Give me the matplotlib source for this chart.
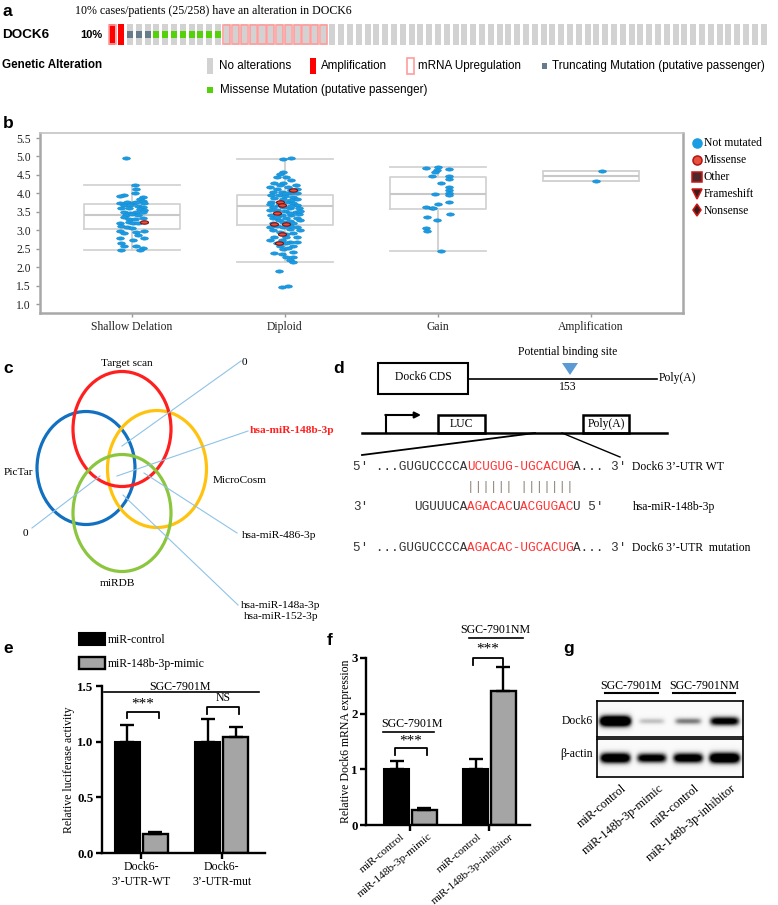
import numpy as np
import matplotlib
matplotlib.use("Agg")
import matplotlib.pyplot as plt
from matplotlib.patches import Rectangle, Ellipse, Polygon
from matplotlib.path import Path

W, H = 778, 905
plt.rcParams["font.family"] = ["Liberation Serif", "DejaVu Serif"]
SANS = ["Liberation Sans", "DejaVu Sans"]
MONO = ["Liberation Mono", "DejaVu Sans Mono"]

# ---------------- data ----------------
# a: oncoprint, one column per sample
onco_types = ["amp_mrna", "amp", "trunc", "missense", "mrna", "none"]
onco_counts = [1, 1, 3, 8, 12, 50]

# b: DOCK6 expression by copy number
cn_groups = ["Shallow Delation", "Diploid", "Gain", "Amplification"]
box_q1 = [3.03, 3.13, 3.58, 4.33]
box_med = [3.42, 3.67, 3.99, 4.47]
box_q3 = [3.71, 3.96, 4.45, 4.61]
box_lo = [2.46, 2.13, 2.44, 4.33]
box_hi = [4.23, 4.93, 4.71, 4.61]

shallow_y = [4.95, 4.23, 4.12, 4.00, 3.96, 3.94, 3.89, 3.84, 3.79, 3.75, 3.77, 3.75, 3.77,
             3.73, 3.68, 3.68, 3.66, 3.64, 3.59, 3.59, 3.57, 3.55, 3.50, 3.48, 3.50, 3.50,
             3.41, 3.43, 3.41, 3.35, 3.30, 3.30, 3.32, 3.19, 3.23, 3.19, 3.19, 3.12, 3.08,
             3.05, 2.99, 2.93, 2.96, 2.99, 2.87, 2.78, 2.74, 2.79, 2.65, 2.57, 2.56, 2.51,
             2.47, 2.47]
shallow_dx = [-0.04, 0.02, 0.03, 0.02, -0.05, -0.08, 0.07, 0.05, 0.07, -0.08, -0.03, 0.01,
              0.03, 0.08, -0.05, -0.01, 0.04, 0.07, -0.07, -0.02, 0.05, 0.08, -0.05, -0.01,
              0.03, 0.07, -0.04, 0.0, 0.04, -0.05, -0.02, 0.02, 0.07, -0.08, -0.02, 0.01,
              0.04, -0.07, -0.03, 0.0, -0.08, -0.05, 0.03, 0.08, 0.04, -0.08, 0.01, 0.08,
              -0.07, -0.05, 0.03, 0.07, -0.07, 0.05]
diploid_y = [4.93, 4.95, 4.59, 4.52, 4.43, 4.43, 4.36, 4.29, 4.27, 4.23, 4.18, 4.11, 4.12,
             4.05, 4.05, 4.02, 4.00, 3.96, 3.96, 3.93, 3.91, 3.87, 3.84, 3.84, 3.77, 3.77,
             3.73, 3.68, 3.64, 3.64, 3.59, 3.59, 3.55, 3.53, 3.50, 3.41, 3.41, 3.41, 3.44,
             3.32, 3.32, 3.32, 3.28, 3.26, 3.19, 3.19, 3.12, 3.08, 3.08, 3.01, 3.03, 2.96,
             2.92, 2.81, 2.83, 2.81, 2.74, 2.69, 2.65, 2.57, 2.56, 2.48, 2.37, 2.36, 2.42,
             2.28, 2.27, 2.19, 2.15, 1.90, 1.47, 1.50,
             4.18, 4.23, 4.09, 4.00, 3.77, 3.82, 3.71, 3.68, 3.67, 3.55, 3.48, 3.53, 3.37,
             3.23, 3.28, 3.08, 3.12, 3.01, 2.90, 2.74, 2.69, 2.66, 2.51]
diploid_dx = [-0.01, 0.04, -0.01, -0.03, -0.05, 0.01, 0.04, -0.07, -0.01, 0.07, 0.02, -0.05,
              0.08, -0.08, -0.02, 0.03, 0.08, -0.09, -0.04, 0.0, 0.05, -0.07, -0.01, 0.08,
              -0.09, 0.02, 0.05, 0.08, -0.08, -0.01, 0.03, 0.09, -0.05, 0.0, 0.07, -0.09,
              -0.02, 0.04, 0.09, -0.08, 0.01, 0.08, -0.04, 0.03, -0.08, 0.05, -0.05, -0.01,
              0.08, -0.08, 0.03, -0.03, 0.05, -0.07, 0.01, 0.08, -0.02, 0.03, 0.01, -0.03,
              0.05, -0.01, -0.07, -0.02, 0.05, 0.01, 0.05, 0.03, 0.05, -0.04, -0.02, 0.02,
              -0.10, -0.03, 0.04, 0.01, -0.03, 0.04, -0.10, -0.04, 0.04, -0.10, 0.03, 0.10,
              -0.05, -0.01, 0.10, -0.10, 0.03, 0.10, 0.01, -0.10, 0.08, -0.05, 0.02]
gain_y = [4.70, 4.72, 4.65, 4.63, 4.59, 4.47, 4.47, 4.38, 4.27, 4.16, 4.09, 3.98, 4.00,
          3.96, 3.70, 3.77, 3.62, 3.61, 3.59, 3.44, 3.37, 3.29, 3.06, 2.97, 2.44]
gain_dx = [-0.08, 0.0, 0.07, -0.01, -0.02, -0.04, 0.07, 0.07, 0.02, 0.07, 0.07, -0.02, 0.07,
           0.07, 0.0, 0.07, -0.08, -0.04, -0.03, 0.08, -0.07, -0.01, -0.08, -0.07, 0.02]
amp_y = [4.61, 4.33]
amp_dx = [0.07, 0.03]

# missense-mutated samples: (group index, jitter, value)
missense_group = [0, 1, 1, 1, 1, 1, 1, 1, 1]
missense_dx = [0.08, 0.05, -0.03, -0.02, -0.05, -0.07, 0.01, -0.02, -0.04]
missense_y = [3.22, 4.09, 3.77, 3.69, 3.48, 3.17, 3.16, 2.90, 2.65]

# e: luciferase reporter
luc_groups = ["Dock6-\n3\u2019-UTR-WT", "Dock6-\n3\u2019-UTR-mut"]
luc_control = [1.0, 1.0]
luc_control_err = [0.15, 0.20]
luc_mimic = [0.17, 1.04]
luc_mimic_err = [0.02, 0.09]

# f: Dock6 mRNA
mrna_labels = ["miR-control", "miR-148b-3p-mimic", "miR-control", "miR-148b-3p-inhibitor"]
mrna_control = [1.0, 1.0]
mrna_control_err = [0.15, 0.18]
mrna_treated = [0.27, 2.40]
mrna_treated_err = [0.04, 0.43]

# g: western blot band intensities
blot_lanes = ["miR-control", "miR-148b-3p-mimic", "miR-control", "miR-148b-3p-inhibitor"]
dock6_band = [1.0, 0.2, 0.35, 0.7]
actin_band = [0.85, 0.72, 0.78, 0.9]

# ---------------- figure ----------------
fig = plt.figure(figsize=(W / 100, H / 100), dpi=100)


def px_axes(x0, y0, x1, y1):
    return fig.add_axes([x0 / W, 1 - y1 / H, (x1 - x0) / W, (y1 - y0) / H])


ov = fig.add_axes([0, 0, 1, 1])
ov.set_xlim(0, W)
ov.set_ylim(H, 0)
ov.set_autoscale_on(False)
ov.axis("off")
ov.set_zorder(10)
ov.patch.set_visible(False)

for lab, x, y in [("a", 3, 11), ("b", 3, 123), ("c", 3, 368), ("d", 333, 368),
                  ("e", 3, 648), ("f", 327, 640), ("g", 563, 648)]:
    ov.text(x, y, lab, family=SANS, fontsize=12.5, fontweight="bold", va="center")

# ---- a ----
ov.text(75, 11, "10% cases/patients (25/258) have an alteration in DOCK6", fontsize=8.6, va="center")
ov.text(2, 35, "DOCK6", family=SANS, fontsize=9.7, fontweight="bold", va="center")
ov.text(80, 35, "10%", family=SANS, fontsize=8, fontweight="bold", va="center")
ov.text(2, 65, "Genetic Alteration", family=SANS, fontsize=8.4, fontweight="bold", va="center")

GREY, RED, PINK, SLATE, GREEN = "#d2d2d2", "#ff0000", "#ff9c9c", "#687b8c", "#55d10a"
ax_a = px_axes(108, 24, 768, 45)
sample_types = np.repeat(onco_types, onco_counts)
for i, t in enumerate(sample_types):
    face = RED if t.startswith("amp") else GREY
    ax_a.add_patch(Rectangle((i - 0.34, 0), 0.68, 1, fc=face, ec="none"))
    if "mrna" in t:
        ax_a.add_patch(Rectangle((i - 0.42, 0.03), 0.84, 0.94, fc="none", ec=PINK, lw=1.2))
    if t == "trunc":
        ax_a.add_patch(Rectangle((i - 0.34, 0.35), 0.68, 0.3, fc=SLATE, ec="none"))
    if t == "missense":
        ax_a.add_patch(Rectangle((i - 0.34, 0.35), 0.68, 0.3, fc=GREEN, ec="none"))
ax_a.set_xlim(-0.5, len(sample_types) - 0.5)
ax_a.set_ylim(0, 1)
ax_a.axis("off")

# legend of a
ov.add_patch(Rectangle((207, 58), 6, 16, fc=GREY, ec="none"))
ov.text(219, 66, "No alterations", family=SANS, fontsize=8.4, va="center")
ov.add_patch(Rectangle((310, 58), 6, 16, fc=RED, ec="none"))
ov.text(321, 66, "Amplification", family=SANS, fontsize=8.4, va="center")
ov.add_patch(Rectangle((407, 58), 7, 16, fc="none", ec=PINK, lw=1.2))
ov.text(418, 66, "mRNA Upregulation", family=SANS, fontsize=8.4, va="center")
ov.add_patch(Rectangle((542, 63), 5, 6, fc=SLATE, ec="none"))
ov.text(552, 66, "Truncating Mutation (putative passenger)", family=SANS, fontsize=8.4, va="center")
ov.add_patch(Rectangle((207, 87), 6, 6, fc=GREEN, ec="none"))
ov.text(220, 90, "Missense Mutation (putative passenger)", family=SANS, fontsize=8.4, va="center")

# ---- b ----
ax_b = px_axes(40, 133, 683, 313)
stats = [dict(med=m, q1=a, q3=b, whislo=lo, whishi=hi, fliers=[])
         for m, a, b, lo, hi in zip(box_med, box_q1, box_q3, box_lo, box_hi)]
bc = "#d3d3d3"
ax_b.bxp(stats, positions=range(4), widths=0.63, capwidths=0.63, showfliers=False,
         boxprops=dict(color=bc, lw=1.3), whiskerprops=dict(color=bc, lw=1.5),
         capprops=dict(color=bc, lw=1.3), medianprops=dict(color="#c8c8c8", lw=1.5))
theta = np.linspace(0, 2 * np.pi, 40)
ell = Path(np.column_stack([np.cos(theta), 0.42 * np.sin(theta)]))
BLUE = "#1a9ce3"
for gi, (ys, dxs) in enumerate([(shallow_y, shallow_dx), (diploid_y, diploid_dx),
                                (gain_y, gain_dx), (amp_y, amp_dx)]):
    ax_b.plot(gi + np.array(dxs), ys, ls="none", marker=ell, ms=5.6, mfc=BLUE, mec="#1589cf",
              mew=0.4, zorder=3)
ax_b.plot(np.array(missense_group) + np.array(missense_dx), missense_y, ls="none", marker=ell,
          ms=5.8, mfc="#e8503c", mec="#7a1010", mew=0.8, zorder=4)
ax_b.set_xlim(-0.6, 3.6)
ax_b.set_ylim(0.757, 5.636)
ax_b.set_yticks(np.arange(1.0, 5.51, 0.5))
ax_b.set_yticklabels(["%.1f" % v for v in np.arange(1.0, 5.51, 0.5)], fontsize=8.4)
ax_b.set_xticks(range(4))
ax_b.set_xticklabels(cn_groups, fontsize=8.4)
ax_b.tick_params(colors="#999999", labelcolor="#222222", length=3, width=1)
ax_b.tick_params(axis="x", pad=2.5)
for s in ax_b.spines.values():
    s.set_color("#c4c4c4")
    s.set_linewidth(1.2)
for side in ("left", "bottom", "right"):
    ax_b.spines[side].set_color("#a8a8a8")
    ax_b.spines[side].set_linewidth(1.8)

legend_b = [("Not mutated", "o", BLUE, BLUE), ("Missense", "o", "#e8503c", "#b01515"),
            ("Other", "s", "#4a2a2a", "#d01515"), ("Frameshift", "v", "#3a1c1c", "#d01515"),
            ("Nonsense", "d", "#3a1c1c", "#d01515")]
for k, (lab, m, fc, ec) in enumerate(legend_b):
    y = 143.3 + 16.8 * k
    ov.plot(697, y, marker=m, ms=6.5, mfc=fc, mec=ec, mew=1.1, ls="none")
    ov.text(704, y, lab, fontsize=8.4, va="center")

# ---- c ----
venn = [("PicTar", 86, 468, 98, 113, "#1270c0"), ("MicroCosm", 157, 469, 99, 117, "#ffc20e"),
        ("Target scan", 122, 429, 98, 115, "#ff1f1f"), ("miRDB", 122, 513, 98, 117, "#8cc63f")]
for name, cx, cy, w, h, col in venn:
    ov.add_patch(Ellipse((cx, cy), w, h, fc="none", ec=col, lw=2.3))
ov.text(127, 363, "Target scan", fontsize=8.2, ha="center", va="center")
ov.text(4, 472, "PicTar", fontsize=8.2, va="center")
ov.text(213, 480, "MicroCosm", fontsize=8.2, va="center")
ov.text(117, 583, "miRDB", fontsize=8.2, ha="center", va="center")
ov.text(244, 362, "0", fontsize=8.2, ha="center", va="center")
ov.text(25, 533, "0", fontsize=8.2, ha="center", va="center")
ov.text(250, 430, "hsa-miR-148b-3p", fontsize=8.2, color="#ff1f1f", fontweight="bold", va="center")
ov.text(242, 535, "hsa-miR-486-3p", fontsize=8.2, va="center")
ov.text(281, 611, "hsa-miR-148a-3p\nhsa-miR-152-3p", fontsize=8.2, ha="center", va="center",
        linespacing=1.15)
LB = "#8fc3e8"
for (x0, y0), (x1, y1) in [((241, 361), (122, 446)), ((248, 431), (117, 476)),
                           ((32, 528), (100, 476)), ((144, 473), (237, 533)),
                           ((123, 495), (238, 605))]:
    ov.plot([x0, x1], [y0, y1], color=LB, lw=0.8)

# ---- d ----
ov.add_patch(Rectangle((378, 363), 90, 31, fc="none", ec="black", lw=1.5))
ov.text(423, 377, "Dock6 CDS", fontsize=8.4, ha="center", va="center")
ov.plot([468, 657], [379, 379], color="black", lw=1.2)
ov.text(659, 378, "Poly(A)", fontsize=8.4, va="center")
ov.add_patch(Polygon([(562, 363), (578, 363), (570, 375)], closed=True, fc="#5b9bd5", ec="none"))
ov.text(568, 352, "Potential binding site", fontsize=8.4, ha="center", va="center")
ov.text(568, 387, "153", fontsize=8.4, ha="center", va="center")

ov.plot([362, 667], [433, 433], color="black", lw=1.8)
ov.plot([386, 386], [433, 415], color="black", lw=1.5)
ov.annotate("", xy=(421, 415), xytext=(385.3, 415),
            arrowprops=dict(arrowstyle="-|>", lw=1.5, color="black", mutation_scale=9,
                            shrinkA=0, shrinkB=0))
ov.add_patch(Rectangle((438, 415), 47, 18, fc="none", ec="black", lw=1.8))
ov.text(461.5, 424, "LUC", fontsize=8.4, ha="center", va="center")
ov.add_patch(Rectangle((583, 415), 46, 18, fc="none", ec="black", lw=1.8))
ov.text(606, 424, "Poly(A)", fontsize=8.4, ha="center", va="center")
ov.plot([362, 535], [455, 433], color="black", lw=1.3)
ov.plot([562, 620], [433, 457], color="black", lw=1.0)

DARK, SRED = "#333333", "#ff3333"
cw = 0.6 * 9.1 * 100 / 72


def seq_line(y, parts, start=0):
    pos = start
    for s, c in parts:
        ov.text(353 + pos * cw, y, s, family=MONO, fontsize=9.1, color=c, va="center")
        pos += len(s)


seq_line(467, [("5' ...GUGUCCCCA", DARK), ("UCUGUG-UGCACUG", SRED), ("A... 3'", DARK)])
seq_line(487, [("|||||| |||||||", "#8c7f72")], start=15)
seq_line(507, [("3'", DARK)])
seq_line(507, [("UGUUUCA", DARK), ("AGACAC", SRED), ("U", DARK), ("ACGUGAC", SRED),
               ("U 5'", DARK)], start=8)
seq_line(548, [("5' ...GUGUCCCCA", DARK), ("AGACAC-UGCACUG", SRED), ("A... 3'", DARK)])
ov.text(632, 467, "Dock6 3\u2019-UTR WT", fontsize=8.4, va="center")
ov.text(633, 507, "hsa-miR-148b-3p", fontsize=8.4, va="center")
ov.text(632, 548, "Dock6 3\u2019-UTR  mutation", fontsize=8.4, va="center")

# ---- e ----
BARGREY = "#a5a5a5"
ekw = dict(ecolor="black", elinewidth=1.7, capsize=5, capthick=1.7)
ax_e = px_axes(102, 686, 265, 853)
xg = np.arange(2)
ax_e.bar(xg - 0.175, luc_control, 0.31, color="black", edgecolor="black", lw=1.5,
         yerr=[np.zeros(2), luc_control_err], error_kw=ekw, label="miR-control")
ax_e.bar(xg + 0.175, luc_mimic, 0.31, color=BARGREY, edgecolor="black", lw=1.7,
         yerr=[np.zeros(2), luc_mimic_err], error_kw=ekw, label="miR-148b-3p-mimic")
ax_e.set_xlim(-0.49, 1.54)
ax_e.set_ylim(0, 1.5)
ax_e.set_yticks([0, 0.5, 1.0, 1.5])
ax_e.set_yticklabels(["0.0", "0.5", "1.0", "1.5"], fontweight="bold", fontsize=9.3)
ax_e.set_xticks(xg)
ax_e.set_xticklabels(luc_groups, fontsize=8.5, linespacing=1.3)
ax_e.set_ylabel("Relative luciferase activity", fontsize=8.5)
ax_e.yaxis.set_label_coords(-0.165, 0.5)


def style_bar_axes(ax):
    ax.spines["top"].set_visible(False)
    ax.spines["right"].set_visible(False)
    ax.spines["left"].set_linewidth(1.7)
    ax.spines["bottom"].set_linewidth(1.7)
    ax.tick_params(length=4, width=1.7, pad=2)
    ax.patch.set_visible(False)


style_bar_axes(ax_e)


def bracket(ax, x0, x1, y, drop, text, ty, fs=11):
    ax.plot([x0, x0, x1, x1], [y - drop, y, y, y - drop], color="black", lw=1.3, clip_on=False)
    ax.text((x0 + x1) / 2, ty, text, fontsize=fs, ha="center", va="center", clip_on=False)


bracket(ax_e, -0.18, 0.22, 1.27, 0.06, "***", 1.34)
bracket(ax_e, 0.82, 1.22, 1.31, 0.06, "NS", 1.39, fs=8.5)
ax_e.plot([-0.47, 1.47], [1.45, 1.45], color="black", lw=1.2, clip_on=False)
ax_e.text(0.48, 1.49, "SGC-7901M", fontsize=8.6, ha="center", va="center", clip_on=False)
ax_e.legend(loc="upper left", bbox_to_anchor=(79 / W, 1 - 633 / H), bbox_transform=fig.transFigure,
            frameon=False, fontsize=8.5, handlelength=2.2, handleheight=1.15, handletextpad=0.25,
            labelspacing=0.95, borderpad=0, borderaxespad=0)

# ---- f ----
ax_f = px_axes(366, 658, 530, 825)
ax_f.bar(xg - 0.175, mrna_control, 0.32, color="black", edgecolor="black", lw=1.5,
         yerr=[np.zeros(2), mrna_control_err], error_kw=ekw)
ax_f.bar(xg + 0.175, mrna_treated, 0.32, color=BARGREY, edgecolor="black", lw=1.7,
         yerr=[np.zeros(2), mrna_treated_err], error_kw=ekw)
ax_f.set_xlim(-0.563, 1.513)
ax_f.set_ylim(0, 3)
ax_f.set_yticks([0, 1, 2, 3])
ax_f.set_yticklabels(["0", "1", "2", "3"], fontweight="bold", fontsize=9.3)
ax_f.set_xticks(xg)
ax_f.set_xticklabels([])
ax_f.set_xticks([-0.13, 0.22, 0.85, 1.25], minor=True)
ax_f.set_xticklabels(mrna_labels, minor=True, rotation=40, ha="right", rotation_mode="anchor",
                     fontsize=8.2)
ax_f.set_ylabel("Relative Dock6 mRNA expression", fontsize=8.5)
ax_f.yaxis.set_label_coords(-0.085, 0.5)
style_bar_axes(ax_f)
ax_f.tick_params(axis="x", which="minor", length=0, pad=5)
bracket(ax_f, -0.2, 0.21, 1.38, 0.12, "***", 1.50)
ax_f.plot([-0.35, 0.30], [1.67, 1.67], color="black", lw=1.2, clip_on=False)
ax_f.text(0.02, 1.81, "SGC-7901M", fontsize=8.6, ha="center", va="center", clip_on=False)
bracket(ax_f, 0.79, 1.17, 3.0, 0.13, "***", 3.16)
ax_f.plot([0.74, 1.42], [3.36, 3.36], color="black", lw=1.2, clip_on=False)
ax_f.text(1.07, 3.51, "SGC-7901NM", fontsize=8.6, ha="center", va="center", clip_on=False)


# ---- g ----
def band_image(levels, yc):
    xs = np.linspace(0, 4, 400)
    ys = np.linspace(0, 1, 90)
    X, Y = np.meshgrid(xs, ys)
    img = np.full_like(X, 0.04)
    for i, lv in enumerate(levels):
        half = 0.34 + 0.1 * lv
        thick = 0.07 + 0.09 * lv
        img += 1.6 * lv * np.exp(-((X - i - 0.5) / half) ** 6) * np.exp(-((Y - yc) / thick) ** 2)
    return np.clip(img, 0, 1)


for (y0, y1), levels, yc, name, ty in [((701, 737), dock6_band, 0.44, "Dock6", 721),
                                        ((739, 777), actin_band, 0.5, "\u03b2-actin", 754)]:
    axg = px_axes(597, y0, 743, y1)
    axg.imshow(band_image(levels, yc), cmap="Greys", vmin=0, vmax=1, extent=(0, 4, 0, 1),
               aspect="auto", origin="lower", interpolation="bilinear")
    axg.set_xticks([])
    axg.set_yticks([])
    for s in axg.spines.values():
        s.set_linewidth(1.2)
    ov.text(593, ty, name, fontsize=8.4, ha="right", va="center")

ov.text(631, 686, "SGC-7901M", fontsize=8.6, ha="center", va="center")
ov.plot([605, 658], [693, 693], color="black", lw=1.5)
ov.text(704, 686, "SGC-7901NM", fontsize=8.6, ha="center", va="center")
ov.plot([673, 735], [693, 693], color="black", lw=1.5)
for k, lab in enumerate(blot_lanes):
    ov.text(597 + 146 * (k + 0.5) / 4 + 6, 782, lab, fontsize=8.8, rotation=40, ha="right",
            va="top", rotation_mode="anchor")

fig.savefig("out.png", dpi=100)
